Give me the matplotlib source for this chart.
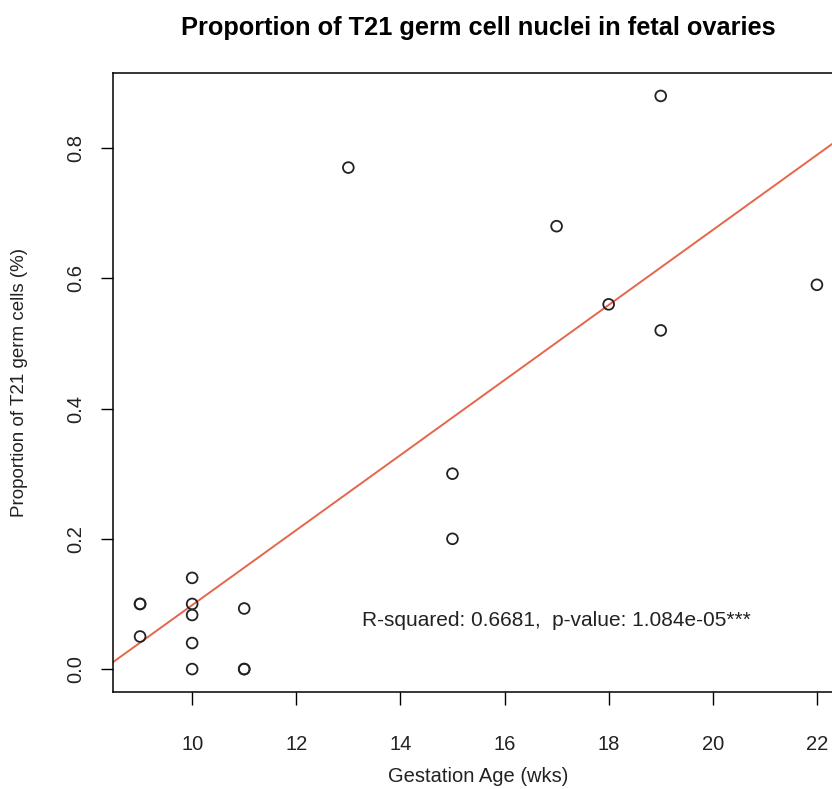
import numpy as np
import matplotlib.pyplot as plt

plt.rcParams['font.family'] = ['Liberation Sans', 'DejaVu Sans']

# gestacijos amžius (savaitės) ir T21 ląstelių dalis
age = [9, 9, 9, 10, 10, 10, 10, 10, 11, 11, 11, 13, 15, 15, 17, 18, 19, 19, 22]
prop = [0.1, 0.1, 0.05, 0.14, 0.1, 0.083, 0.04, 0.0, 0.093, 0.0, 0.0,
        0.77, 0.3, 0.2, 0.68, 0.56, 0.88, 0.52, 0.59]
x_ticks = [10, 12, 14, 16, 18, 20, 22]
y_ticks = [0.0, 0.2, 0.4, 0.6, 0.8]
note = "R-squared: 0.6681,  p-value: 1.084e-05***"

fig = plt.figure(figsize=(8.32, 7.89), dpi=100)
ax = fig.add_axes([113 / 832, 97 / 789, 731 / 832, 619 / 789])

ax.scatter(age, prop, s=60, facecolors='none', edgecolors='#222222', linewidths=1.3, zorder=3)

# regresijos tiesė
slope, icpt = np.polyfit(age, prop, 1)
xs = np.array([8.0, 23.0])
ax.plot(xs, slope * xs + icpt, color='#e5664c', linewidth=1.4, zorder=2)

ax.text(17, 0.075, note, ha='center', va='center', fontsize=15, color='#222222')

ax.set_xlim(8.48, 22.52)
ax.set_ylim(-0.0352, 0.9152)
ax.set_xticks(x_ticks)
ax.set_yticks(y_ticks)
ax.set_yticklabels([f'{v:.1f}' for v in y_ticks], rotation=90, va='center')
ax.tick_params(axis='both', length=9, width=1, labelsize=14.5, labelcolor='#222222')
ax.tick_params(axis='x', pad=22)
ax.tick_params(axis='y', pad=11)
for sp in ax.spines.values():
    sp.set_linewidth(1.1)

ax.set_xlabel('Gestation Age (wks)', fontsize=14.5, color='#222222', va='center')
ax.xaxis.set_label_coords(0.5, -(776 - 692) / 619)
ax.set_ylabel('Proportion of T21 germ cells (%)', fontsize=13.5, color='#222222', va='center')
ax.yaxis.set_label_coords(-(113 - 20) / 731, 0.5)
fig.suptitle('Proportion of T21 germ cell nuclei in fetal ovaries', fontsize=18.3,
             fontweight='bold', x=478 / 832, y=1 - 28 / 789, va='center')

fig.savefig('out.png', dpi=100)
